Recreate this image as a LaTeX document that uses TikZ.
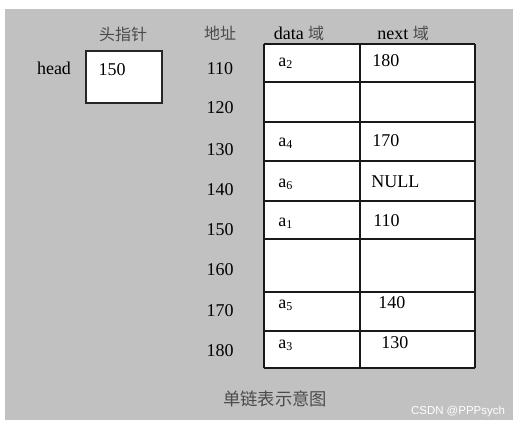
\documentclass[tikz,border=0pt]{standalone}
\usepackage{fontspec}
\setmainfont{Liberation Serif}
\newfontfamily\cjk{Noto Sans CJK SC}
\newfontfamily\wmfont{Liberation Sans}
\definecolor{bggray}{RGB}{193,193,193}
\definecolor{zhgray}{RGB}{75,75,75}

\begin{document}
\begin{tikzpicture}[x=0.75pt,y=-0.75pt,font=\fontsize{13.5}{15}\selectfont,
  tbl/.style={line width=1.1pt,black!90},
  zh/.style={text=zhgray,font=\cjk\fontsize{12}{14}\selectfont}]
%Фон
\useasboundingbox[fill=white] (0,0) rectangle (521,429);
\fill[bggray] (5,9) rectangle (513,420);
%Головной указатель
\node[draw=black!85,line width=1.2pt,fill=white,minimum width=57pt,minimum height=39pt] (headbox) at (124,77) {};
\node[anchor=base] (head) at (54,74) {head};
\node[anchor=base] (headval) at (112,75) {150};
\node[zh] (ptrtitle) at (123,34) {头指针};
%Адреса
\node[zh] (adrtitle) at (220,33) {地址};
\foreach \y/\adr [count=\i] in {69/110,108/120,150/130,190/140,230/150,270/160,311/170,351/180}
  \node (adr\i) at (220,\y) {\adr};
%Таблица
\fill[white] (264,44) rectangle (475,368);
\foreach \y in {44,82,122,161,201,239,292,331,368}
  \draw[tbl] (264,\y) -- (475,\y);
\foreach \x in {264,360,475}
  \draw[tbl] (\x,44) -- (\x,368);
\node (datatitle) at (299,33) {data {\cjk\fontsize{12}{14}\selectfont\color{zhgray}域}};
\node (nexttitle) at (403,33) {next {\cjk\fontsize{12}{14}\selectfont\color{zhgray}域}};
\foreach \y/\d/\nx/\n [count=\i] in {66/2/372/180,146/4/372/170,187/6/371/NULL,226/1/373/110,308/5/378/140,348/3/381/130}{
  \node[anchor=base west,inner sep=0pt] (data\i) at (278,\y) {a\raisebox{-0.3ex}{\fontsize{9}{10}\selectfont\d}};
  \node[anchor=base west,inner sep=0pt] (next\i) at (\nx,\y) {\n};
}
%Подписи
\node[zh,font=\cjk\fontsize{13}{15}\selectfont] (caption) at (275,399) {单链表示意图};
\node[text=white,font=\wmfont\fontsize{8.6}{10}\selectfont] (mark) at (458,412) {CSDN @PPPsych};
\end{tikzpicture}
\end{document}
